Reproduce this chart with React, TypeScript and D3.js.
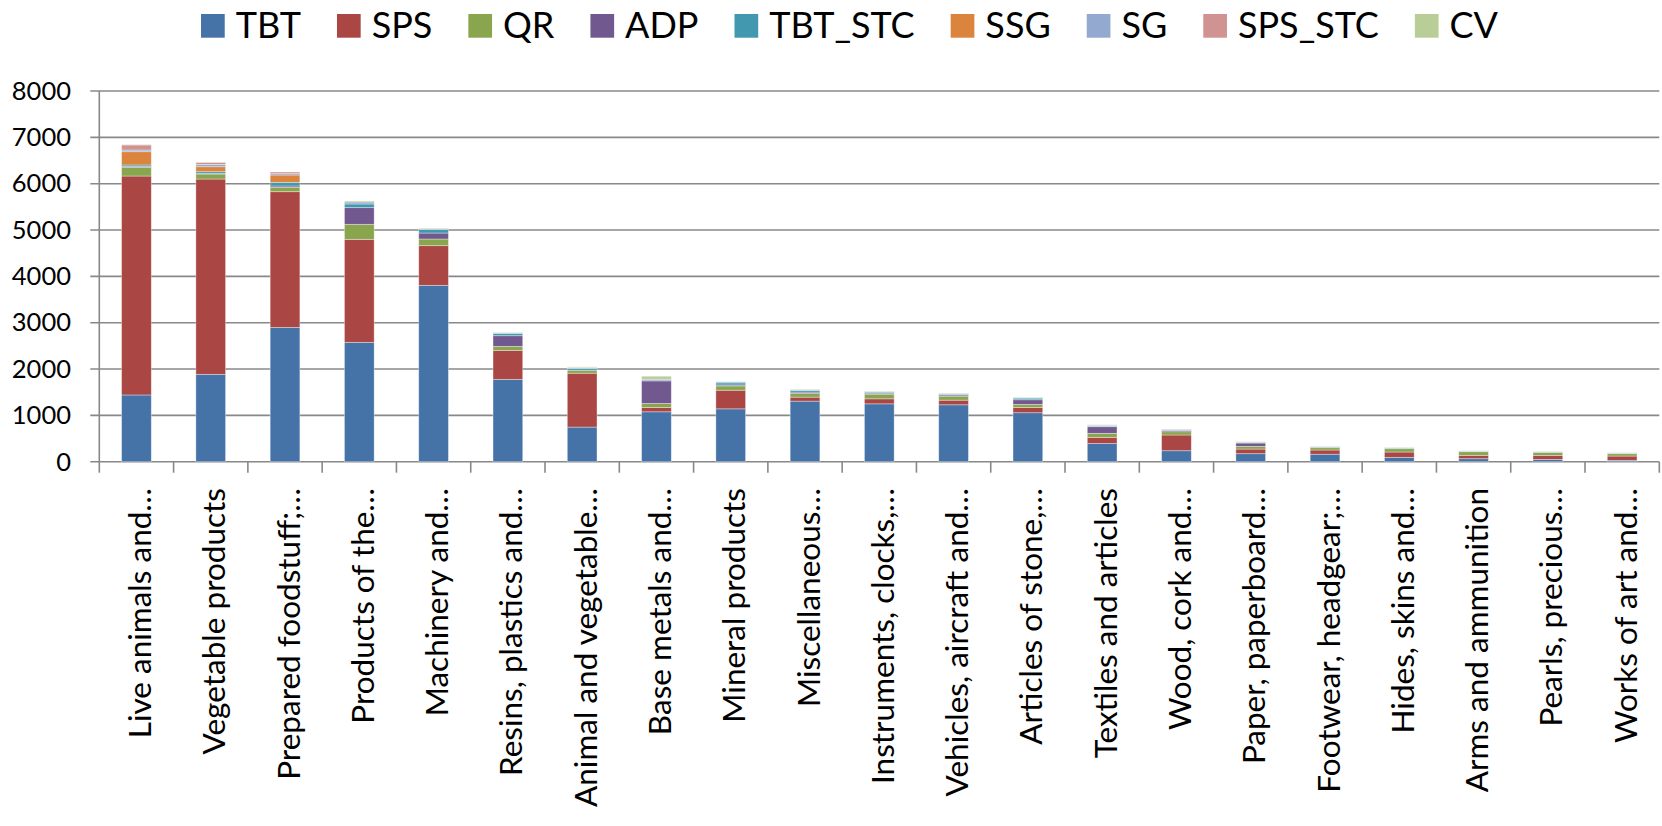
import React, { useEffect, useRef } from "react";
import * as d3 from "d3";

const categories = [
  "Live animals and…",
  "Vegetable products",
  "Prepared foodstuff;…",
  "Products of the…",
  "Machinery and…",
  "Resins, plastics and…",
  "Animal and vegetable…",
  "Base metals and…",
  "Mineral products",
  "Miscellaneous…",
  "Instruments, clocks,…",
  "Vehicles, aircraft and…",
  "Articles of stone,…",
  "Textiles and articles",
  "Wood, cork and…",
  "Paper, paperboard…",
  "Footwear, headgear;…",
  "Hides, skins and…",
  "Arms and ammunition",
  "Pearls, precious…",
  "Works of art and…",
];

const seriesNames = ["TBT", "SPS", "QR", "ADP", "TBT_STC", "SSG", "SG", "SPS_STC", "CV"];

const TBT = [1440, 1885, 2899, 2576, 3806, 1777, 747, 1077, 1141, 1307, 1249, 1228, 1057, 392, 237, 173, 162, 94, 65, 50, 29];
const SPS = [4725, 4215, 2928, 2223, 856, 626, 1163, 93, 402, 86, 108, 100, 115, 133, 339, 100, 90, 115, 72, 87, 93];
const QR = [188, 108, 94, 324, 144, 86, 64, 86, 93, 79, 100, 86, 65, 87, 71, 58, 50, 72, 79, 64, 51];
const ADP = [15, 10, 29, 360, 129, 230, 0, 488, 20, 29, 22, 25, 100, 143, 29, 72, 0, 0, 0, 0, 0];
const TBT_STC = [35, 40, 79, 79, 79, 51, 36, 0, 45, 36, 22, 18, 36, 14, 8, 8, 14, 14, 8, 8, 8];
const SSG = [287, 108, 158, 0, 0, 0, 0, 0, 0, 0, 0, 0, 0, 0, 0, 0, 0, 0, 0, 0, 0];
const SG = [36, 50, 29, 43, 15, 11, 18, 36, 22, 15, 11, 11, 7, 15, 11, 11, 8, 7, 7, 7, 7];
const SPS_STC = [110, 45, 36, 0, 0, 0, 0, 0, 0, 0, 0, 0, 0, 0, 0, 0, 0, 0, 0, 0, 0];
const CV = [10, 5, 0, 22, 14, 10, 18, 65, 0, 14, 11, 11, 10, 14, 11, 10, 7, 7, 6, 7, 6];

const yTicks = [0, 1000, 2000, 3000, 4000, 5000, 6000, 7000, 8000];

const seriesValues: Record<string, number[]> = { TBT, SPS, QR, ADP, TBT_STC, SSG, SG, SPS_STC, CV };

const colors: Record<string, string> = {
  TBT: "#4572A7",
  SPS: "#AA4643",
  QR: "#89A54E",
  ADP: "#71588F",
  TBT_STC: "#4198AF",
  SSG: "#DB843D",
  SG: "#93A9CF",
  SPS_STC: "#D19392",
  CV: "#B9CD96",
};

const FONT = "Lato, 'Open Sans', 'DejaVu Sans', sans-serif";

export default function App() {
  const ref = useRef<SVGSVGElement>(null);

  useEffect(() => {
    const svg = d3.select(ref.current);
    svg.selectAll("*").remove();

    const x0 = 99.3, x1 = 1659.3, yTop = 91, yBot = 461.7;
    const x = d3.scaleBand<string>().domain(categories).range([x0, x1]).paddingInner(0.6).paddingOuter(0.3);
    const y = d3.scaleLinear().domain([0, 8000]).range([yBot, yTop]);
    const step = x.step();

    const rows = categories.map((c, i) => {
      const r: any = { cat: c };
      seriesNames.forEach((s) => (r[s] = seriesValues[s][i]));
      return r;
    });
    const stacked = d3.stack<any>().keys(seriesNames)(rows);

    const grid = svg.append("g");
    grid
      .selectAll("line")
      .data(yTicks)
      .join("line")
      .attr("x1", x0 - 9)
      .attr("x2", x1)
      .attr("y1", (d) => y(d))
      .attr("y2", (d) => y(d))
      .attr("stroke", "#888888")
      .attr("stroke-width", 1.6);

    svg
      .append("line")
      .attr("x1", x0)
      .attr("x2", x0)
      .attr("y1", yTop)
      .attr("y2", yBot)
      .attr("stroke", "#888888")
      .attr("stroke-width", 1.6);

    svg
      .append("g")
      .selectAll("line")
      .data(d3.range(categories.length + 1))
      .join("line")
      .attr("x1", (i) => x0 + i * step)
      .attr("x2", (i) => x0 + i * step)
      .attr("y1", yBot)
      .attr("y2", yBot + 11)
      .attr("stroke", "#888888")
      .attr("stroke-width", 1.6);

    svg
      .append("g")
      .selectAll("text")
      .data(yTicks)
      .join("text")
      .attr("x", 71)
      .attr("y", (d) => y(d) + 8.8)
      .attr("text-anchor", "end")
      .attr("font-family", FONT)
      .attr("font-size", 25.5)
      .attr("fill", "#000")
      .text((d) => String(d));

    const bars = svg.append("g");
    stacked.forEach((layer) => {
      bars
        .append("g")
        .attr("fill", colors[layer.key])
        .selectAll("rect")
        .data(layer.filter((d) => d[1] - d[0] > 0))
        .join("rect")
        .attr("x", (d) => x(d.data.cat)!)
        .attr("width", x.bandwidth())
        .attr("y", (d) => y(d[1]))
        .attr("height", (d) => y(d[0]) - y(d[1]))
        .attr("stroke", "rgba(255,255,255,0.45)")
        .attr("stroke-width", 0.8);
    });

    svg
      .append("g")
      .selectAll("text")
      .data(categories)
      .join("text")
      .attr("transform", (d) => `translate(${x(d)! + x.bandwidth() / 2 + 14.5},488) rotate(-90)`)
      .attr("text-anchor", "end")
      .attr("font-family", FONT)
      .attr("font-size", 31.5)
      .attr("fill", "#000")
      .text((d) => d);

    // legend
    const leg = svg.append("g");
    const sq = 23.7, gapText = 11, gapItem = 36;
    const items = seriesNames.map((s) => {
      const g = leg.append("g");
      g.append("rect").attr("width", sq).attr("height", sq).attr("y", 14).attr("fill", colors[s]);
      const t = g
        .append("text")
        .attr("x", sq + gapText)
        .attr("y", 37.7)
        .attr("font-family", FONT)
        .attr("font-size", 36)
        .attr("fill", "#000")
        .text(s);
      const w = (t.node() as SVGTextElement).getComputedTextLength();
      return { g, w };
    });
    const total = items.reduce((a, it, i) => a + sq + gapText + it.w + (i < items.length - 1 ? gapItem : 0), 0);
    let cx = 849.5 - total / 2;
    items.forEach((it) => {
      it.g.attr("transform", `translate(${cx},0)`);
      cx += sq + gapText + it.w + gapItem;
    });
  }, []);

  return (
    <svg
      ref={ref}
      width={1662}
      height={826}
      style={{ position: "absolute", left: 0, top: 0, background: "#fff" }}
    />
  );
}
